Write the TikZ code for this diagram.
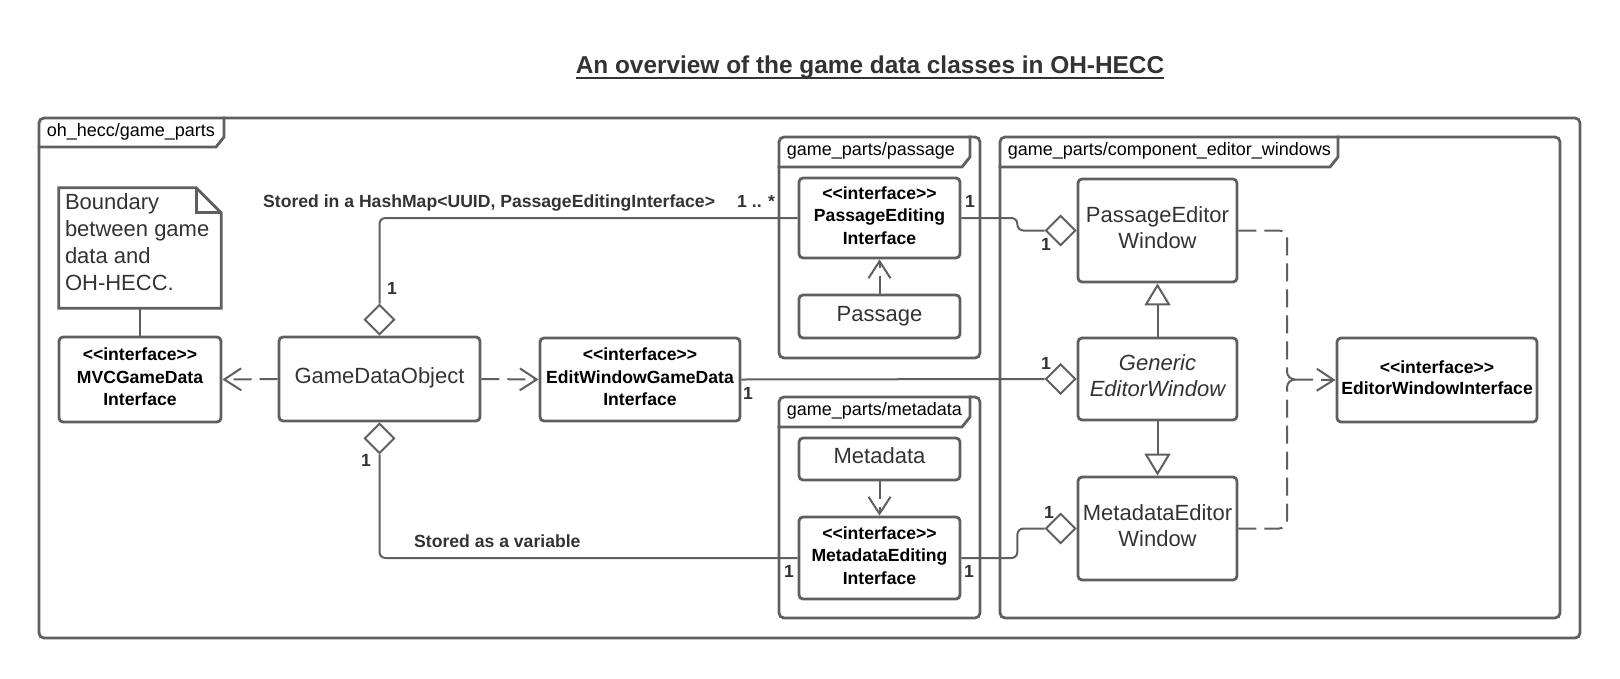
\documentclass[tikz,border=0pt]{standalone}
\usepackage{fontspec}
\setmainfont{Liberation Sans}
\usetikzlibrary{arrows.meta,shapes.geometric}
\definecolor{edge}{HTML}{5F5F5F}
\definecolor{ink}{HTML}{333333}
\newcommand{\iface}{<\kern0pt<interface>\kern0pt>}

\begin{document}
\begin{tikzpicture}[x=1pt,y=-1pt,
cls/.style={draw=edge, line width=2.8pt, rounded corners=4pt, fill=white, text=ink, align=center,
    font=\fontsize{22}{26}\selectfont, text depth=6pt, inner sep=0pt},
ifc/.style={cls, text=black, font=\bfseries\fontsize{17.6}{22.5}\selectfont, text depth=5pt},
pkg/.style={draw=edge, line width=2.8pt, rounded corners=5pt, inner sep=0pt},
tab/.style={anchor=north west, text width=#1, inner xsep=9pt, inner ysep=0pt, minimum height=31pt,
    align=left, text=black, font=\fontsize{18}{20}\selectfont},
agg/.style={diamond, draw=edge, line width=2pt, fill=white, minimum width=30pt, minimum height=30pt, inner sep=0pt},
lbl/.style={text=ink, font=\bfseries\fontsize{17.6}{20}\selectfont, inner sep=0pt},
assoc/.style={draw=edge, line width=2pt},
dep/.style={assoc, dash pattern=on 18pt off 8pt, -{Straight Barb[length=17pt,width=22pt]}},
gen/.style={assoc, -{Triangle[length=22pt,width=26pt,fill=white]}}]
\useasboundingbox (0,0) rectangle (1620,678);

\node[inner sep=0pt, text=ink, font=\bfseries\fontsize{24.4}{28}\selectfont, anchor=base] (title) at (870,73)
    {An overview of the game data classes in OH-HECC};
\draw[ink, line width=2pt] ([yshift=-5pt]title.base west) -- ([yshift=-5pt]title.base east);

% packages
\node[pkg, minimum width=1541pt, minimum height=520pt] (top) at (809.5,378) {};
\node[tab=168pt, minimum height=30pt] (toptab) at (top.north west) {oh\_hecc/game\_parts};
\node[pkg, minimum width=201pt, minimum height=221pt] (ppass) at (879.5,247.5) {};
\node[tab=174pt] (ppasstab) at (ppass.north west) {game\_parts/passage};
\node[pkg, minimum width=201pt, minimum height=221pt] (pmeta) at (879.5,507.5) {};
\node[tab=174pt] (pmetatab) at (pmeta.north west) {game\_parts/metadata};
\node[pkg, minimum width=560pt, minimum height=481pt] (pcomp) at (1280,377.5) {};
\node[tab=321pt] (pcomptab) at (pcomp.north west) {game\_parts/component\_editor\_windows};
\foreach \t in {toptab,ppasstab,pmetatab,pcomptab}
  \draw[assoc, line width=2.8pt] (\t.north east) -- ([yshift=10pt]\t.south east)
    -- ([xshift=-8pt]\t.south east) -- (\t.south west);

% note
\node[minimum width=162pt, minimum height=120pt, inner sep=0pt] (note) at (140,248) {};
\node[anchor=north west, inner xsep=6pt, inner ysep=6pt, align=left, text=ink,
    font=\fontsize{22}{27}\selectfont] (notetext) at (note.north west)
    {Boundary\\between game\\data and\\OH-HECC.};
\draw[assoc, line width=2.8pt] (note.north west) -- ([xshift=-25pt]note.north east) -- ([yshift=-25pt]note.north east)
    -- (note.south east) -- (note.south west) -- cycle;
\draw[assoc, line width=2.8pt] ([xshift=-25pt]note.north east) |- ([yshift=-25pt]note.north east);

% classes
\node[ifc, minimum width=162pt, minimum height=85pt] (mvc) at (140,379.5) {\iface\\MVCGameData\\Interface};
\node[cls, minimum width=201pt, minimum height=84pt] (gdo) at (379.5,379) {GameDataObject};
\node[ifc, minimum width=200pt, minimum height=83pt] (ewgdi) at (640,379.5) {\iface\\EditWindowGameData\\Interface};
\node[ifc, minimum width=161pt, minimum height=80pt] (pei) at (879.5,218) {\iface\\PassageEditing\\Interface};
\node[cls, minimum width=161pt, minimum height=43pt] (passage) at (879.5,316.5) {Passage};
\node[cls, minimum width=161pt, minimum height=42pt] (metadata) at (879.5,459) {Metadata};
\node[ifc, minimum width=161pt, minimum height=82pt] (mei) at (879.5,558) {\iface\\MetadataEditing\\Interface};
\node[cls, minimum width=159pt, minimum height=103pt] (pew) at (1157.5,230.5) {PassageEditor\\Window};
\node[cls, font=\itshape\fontsize{22}{26}\selectfont, minimum width=159pt, minimum height=82pt] (gew)
    at (1157.5,379) {Generic\\EditorWindow};
\node[cls, minimum width=159pt, minimum height=103pt] (mew) at (1157.5,528.5) {MetadataEditor\\Window};
\node[ifc, font=\bfseries\fontsize{17.6}{21}\selectfont, minimum width=200pt, minimum height=84pt] (ewi)
    at (1437,380) {\iface\\EditorWindowInterface};

\node[agg, anchor=south] (dtop) at (gdo.north) {};
\node[agg, anchor=north] (dbot) at (gdo.south) {};
\node[agg, anchor=east] (dpew) at (pew.west) {};
\node[agg, anchor=east] (dgew) at (gew.west) {};
\node[agg, anchor=east] (dmew) at (mew.west) {};

% connectors
\draw[assoc, line width=2.8pt] (note.south) -- (mvc.north);
\draw[dep] (gdo.west) -- (mvc.east);
\draw[dep] (gdo.east) -- (ewgdi.west);
\draw[dep] (passage.north) -- (pei.south);
\draw[dep] (metadata.south) -- (mei.north);
\draw[assoc, rounded corners=6pt] (dtop.north) |- (pei.west);
\draw[assoc, rounded corners=6pt] (dbot.south) |- (mei.west);
\draw[assoc, rounded corners=6pt] (pei.east) -- ++(56,0) |- (dpew.west);
\draw[assoc] (ewgdi.east) -- (dgew.west);
\draw[assoc, rounded corners=6pt] (mei.east) -- ++(56,0) |- (dmew.west);
\draw[gen] (gew.north) -- (pew.south);
\draw[gen] (gew.south) -- (mew.north);
\coordinate (fork) at (1287,379.5);
\coordinate (brace) at (1295,379.5);
\draw[assoc, dash pattern=on 18pt off 8pt, rounded corners=8pt] (pew.east) -| (fork) -- (brace);
\draw[assoc, dash pattern=on 18pt off 8pt, rounded corners=8pt] (mew.east) -| (fork) -- (brace);
\draw[dep] (brace) -- (ewi.west);

% multiplicities
\node[lbl, anchor=base west] (hashlbl) at (263,207) {Stored in a HashMap<UUID, PassageEditingInterface>};
\node[lbl, anchor=base west] (many) at (737,207) {1 .. *};
\node[lbl, anchor=base west] (varlbl) at (414,547) {Stored as a variable};
\node[lbl] (m1) at (392,288) {1};
\node[lbl] (m2) at (970,201) {1};
\node[lbl] (m3) at (1046,244) {1};
\node[lbl] (m4) at (748,393) {1};
\node[lbl] (m5) at (1046,363) {1};
\node[lbl] (m6) at (366,460) {1};
\node[lbl] (m7) at (789,571) {1};
\node[lbl] (m8) at (969,571) {1};
\node[lbl] (m9) at (1049,512) {1};
\end{tikzpicture}
\end{document}
